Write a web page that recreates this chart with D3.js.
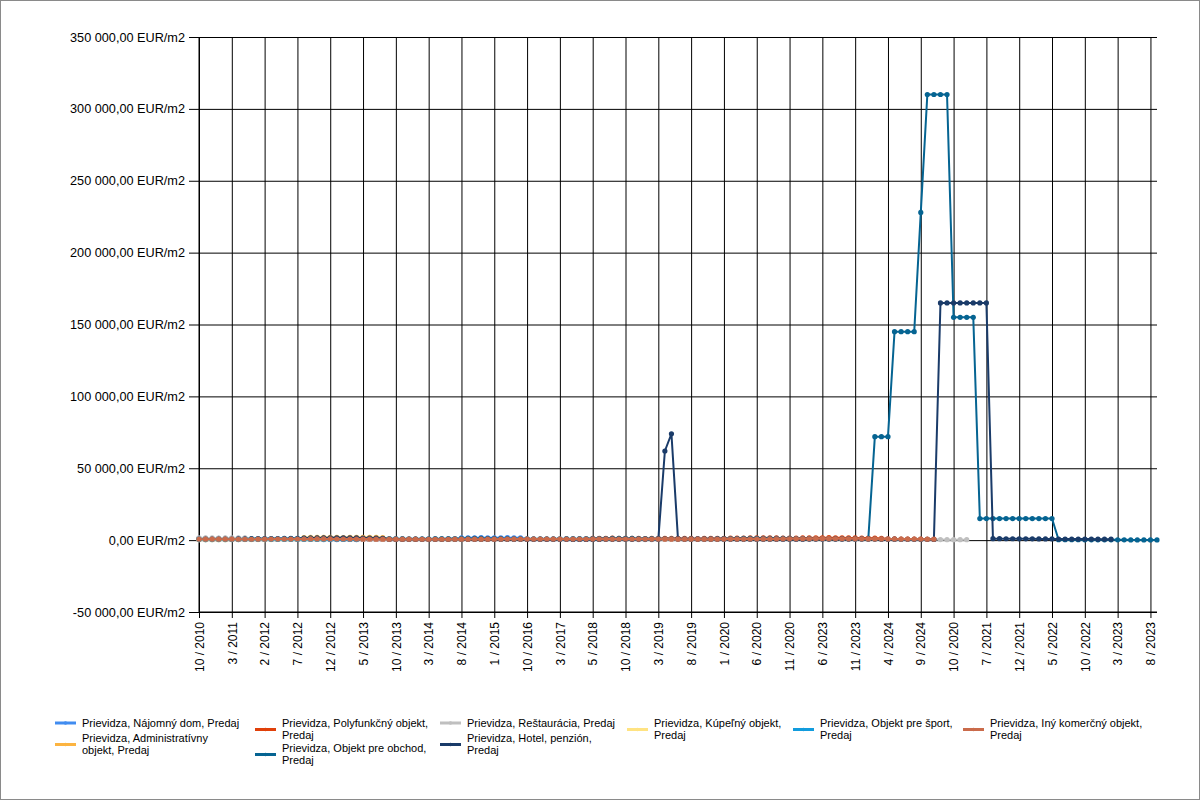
<!DOCTYPE html>
<html>
<head>
<meta charset="utf-8">
<script src="https://cdn.jsdelivr.net/npm/d3@7"></script>
<style>
  body { margin: 0; background: #ffffff; }
  svg { display: block; font-family: "Liberation Sans", Arial, sans-serif; }
</style>
</head>
<body>
<div id="chart"></div>
<script>
// labels shown on the category axis (every 5th point)
const tickLabels = ["10 / 2010", "3 / 2011", "2 / 2012", "7 / 2012", "12 / 2012", "5 / 2013",
  "10 / 2013", "3 / 2014", "8 / 2014", "1 / 2015", "10 / 2016", "3 / 2017", "5 / 2018",
  "10 / 2018", "3 / 2019", "8 / 2019", "1 / 2020", "6 / 2020", "11 / 2020", "6 / 2023",
  "11 / 2023", "4 / 2024", "9 / 2024", "10 / 2020", "7 / 2021", "12 / 2021", "5 / 2022",
  "10 / 2022", "3 / 2023", "8 / 2023"];

const pointCount = 147;

const yTicks = [-50000, 0, 50000, 100000, 150000, 200000, 250000, 300000, 350000];

// series in drawing order
const seriesNames = ["Prievidza, Nájomný dom, Predaj", "Prievidza, Administratívny objekt, Predaj",
  "Prievidza, Polyfunkčný objekt, Predaj", "Prievidza, Objekt pre obchod, Predaj",
  "Prievidza, Reštaurácia, Predaj", "Prievidza, Hotel, penzión, Predaj",
  "Prievidza, Kúpeľný objekt, Predaj", "Prievidza, Objekt pre šport, Predaj",
  "Prievidza, Iný komerčný objekt, Predaj"];

const seriesColors = ["#418CF0", "#FCB441", "#E0400A", "#056492", "#BFBFBF", "#1A3B69", "#FFE382", "#129CDD", "#CA6B4B"];

// EUR/m2 per point
const najomnyDom = [
  400, 410, 420, 430, 440, 450, 460, 470, 480, 490,
  500, 490, 480, 470, 460, 450, 440, 430, 420, 410,
  400, 410, 420, 430, 440, 450, 460, 470, 480, 490,
  500, 510, 520, 530, 540, 550, 560, 570, 580, 590,
  1550, 1600, 1650, 1700, 1650, 1600, 1650, 1700, 1650, 1600,
  600, 590, 580, 570, 560, 550, 540, 530, 520, 510];

const administrativny = [
  480, 490, 500, 510, 520, 530, 540, 550, 560, 570, 580, 590, 600, 610, 620, 630,
  1800, 1850, 1900, 1950, 1900, 1850, 1800, 1850, 1900, 1950, 1900, 1850, 1800,
  600, 590, 580, 570, 560, 550, 540, 530, 520, 510, 500, 490];

const polyfunkcny = [
  450, 460, 470, 480, 490, 500, 510, 520, 530, 540,
  550, 560, 570, 580, 590, 600, 590, 580, 570, 560,
  550, 540, 530, 520, 510, 500, 490, 480, 470, 460,
  450, 460, 470, 480, 490, 500, 510, 520, 530, 540,
  550, 560, 570, 580, 590, 600, 610, 620, 630, 640,
  650, 660, 670, 680, 690, 700, 710, 720, 730, 740,
  1200, 1250, 1300, 1350, 1300, 1250, 1200, 1150, 1100, 1150,
  1200, 1250, 1300, 1250, 1200, 1150, 1100, 1150, 1200, 1250,
  1300, 1350, 1400, 1450, 1500, 1550, 1600, 1550, 1500, 1450,
  1400, 1450, 1500, 1550, 1600, 1650, 1700, 1650, 1600, 1550,
  1500, 1450, 1400, 1350, 1300, 900, 850, 800, 750, 700,
  650, 600, 550];

const objektObchod = [
  1200, 1150, 1100, 1180, 1250, 1300, 1220, 1180, 1100, 1050,
  1000, 1080, 1120, 1150, 1200, 1260, 1300, 1350, 1280, 1200,
  1150, 1100, 1050, 1000, 980, 950, 1000, 1050, 1100, 1080,
  1020, 980, 950, 920, 900, 940, 980, 1000, 1050, 1100,
  1150, 1200, 1180, 1150, 1100, 1050, 1000, 980, 960, 940,
  920, 900, 880, 900, 920, 950, 980, 1000, 1020, 1050,
  1080, 1100, 1120, 1150, 1180, 1200, 1150, 1100, 1050, 1000,
  980, 960, 940, 920, 900, 880, 900, 920, 950, 980,
  1000, 1050, 1100, 1150, 1200, 1250, 1300, 1280, 1250, 1200,
  1150, 1100, 1050, 1000, 950, 900, 880, 860, 850, 840,
  830, 820, 800,
  72000, 72000, 72000,
  145000, 145000, 145000, 145000,
  228000,
  310000, 310000, 310000, 310000,
  155000, 155000, 155000, 155000,
  15000, 15000, 15000, 15000, 15000, 15000, 15000, 15000, 15000, 15000, 15000, 15000,
  300, 280, 260, 250, 240, 230, 220, 210, 200, 190, 180, 170, 160, 150, 140, 130];

const restauracia = [
  1600, 1550, 1500, 1450, 1500, 1550, 1600, 1500,
  520, 510, 500, 490, 480, 470, 460, 470, 480, 490,
  500, 510, 520, 530, 540, 550, 540, 530, 520, 510,
  500, 490, 480, 470, 460, 450, 460, 470, 480, 490,
  500, 510, 520, 530, 540, 550, 560, 570, 580, 590,
  600, 590, 580, 570, 560, 550, 540, 530, 520, 510,
  500, 490, 480, 470, 460, 450, 440, 430, 420, 410,
  400, 410, 420, 430, 440, 450, 460, 470, 480, 490,
  500, 510, 520, 530, 540, 550, 560, 570, 580, 590,
  600, 610, 620, 630, 640, 650, 640, 630, 620, 610,
  600, 590, 580, 570, 560, 550, 540, 530, 520, 510,
  500, 490, 480, 470, 460,
  350, 340, 330, 320, 310];

const hotelPenzion = [
  700, 720, 740, 760, 780, 800, 820, 840, 860, 880, 900, 920, 940, 960, 980, 1000,
  1400, 1450, 1500, 1550, 1600, 1650, 1600, 1550, 1500, 1450, 1400, 1350, 1300,
  600, 590, 580, 570, 560, 550, 560, 570, 580, 590,
  600, 610, 620, 630, 640, 650, 640, 630, 620, 610,
  600, 590, 580, 570, 560, 550, 540, 530, 520, 510,
  500, 510, 520, 530, 540, 550, 560, 570, 580, 590,
  600, 610,
  62000, 74000,
  700, 690, 680, 670, 660, 650, 640, 630, 620, 610,
  600, 610, 620, 630, 640, 650, 660, 670, 680, 690,
  700, 710, 720, 730, 740, 750, 740, 730, 720, 710,
  700, 680, 660, 640, 620, 600, 580, 560, 540, 520,
  165000, 165000, 165000, 165000, 165000, 165000, 165000, 165000,
  1000, 980, 960, 940, 920, 900, 880, 860, 840, 820,
  800, 780, 760, 740, 720, 700, 680, 660, 640];

const kupelny = [300, 310, 320, 330, 340, 350, 360, 370, 380, 390,
  400, 410, 420, 430, 440, 450, 460, 470, 480, 490];

const objektSport = [350, 360, 370, 380, 390, 400, 410, 420, 430, 440,
  450, 460, 470, 480, 490, 500, 490, 480, 470, 460, 450, 440, 430, 420, 410];

const inyKomercny = [
  620, 640, 650, 660, 640, 630, 610, 600, 620, 650,
  680, 700, 720, 740, 760, 780, 800, 820, 840, 830,
  820, 800, 780, 760, 740, 720, 700, 690, 680, 670,
  660, 650, 640, 630, 620, 610, 600, 610, 620, 630,
  640, 650, 660, 670, 680, 690, 700, 710, 720, 730,
  740, 750, 760, 770, 760, 750, 740, 730, 720, 710,
  700, 720, 740, 760, 780, 800, 780, 760, 740, 720,
  700, 690, 680, 670, 660, 650, 660, 670, 680, 690,
  700, 720, 740, 760, 780, 800, 820, 840, 860, 880,
  900, 920, 940, 960, 980, 1000, 980, 960, 940, 920,
  900, 880, 860, 840, 820, 800, 780, 760, 740, 720,
  700, 680, 660];

const seriesValues = [najomnyDom, administrativny, polyfunkcny, objektObchod, restauracia,
  hotelPenzion, kupelny, objektSport, inyKomercny];

// legend text broken into lines like the original
const legendLines = [
  ["Prievidza, Nájomný dom, Predaj"],
  ["Prievidza, Administratívny", "objekt, Predaj"],
  ["Prievidza, Polyfunkčný objekt,", "Predaj"],
  ["Prievidza, Objekt pre obchod,", "Predaj"],
  ["Prievidza, Reštaurácia, Predaj"],
  ["Prievidza, Hotel, penzión,", "Predaj"],
  ["Prievidza, Kúpeľný objekt,", "Predaj"],
  ["Prievidza, Objekt pre šport,", "Predaj"],
  ["Prievidza, Iný komerčný objekt,", "Predaj"]];

var width = 1200, height = 800;
var plot = {left: 199, right: 1157, top: 37, bottom: 612};

var svg = d3.select("#chart")
  .append("svg")
    .attr("width", width)
    .attr("height", height);

svg.append("rect")
  .attr("x", 0.5).attr("y", 0.5)
  .attr("width", width - 1).attr("height", height - 1)
  .attr("fill", "#ffffff")
  .attr("stroke", "#8a8a8a");

var x = d3.scaleLinear()
  .domain([0, pointCount - 1])
  .range([plot.left, plot.right]);

var y = d3.scaleLinear()
  .domain([-50000, 350000])
  .range([plot.bottom, plot.top]);

var skLocale = d3.formatLocale({decimal: ",", thousands: " ", grouping: [3], currency: ["", ""], minus: "-"});
var fmt = skLocale.format(",.2f");

var tickIdx = tickLabels.map((d, i) => i * 5);

// horizontal grid + y axis
var yAxis = svg.append("g")
  .attr("transform", "translate(" + plot.left + ",0)")
  .call(d3.axisLeft(y).tickValues(yTicks).tickSize(10).tickPadding(4)
    .tickFormat(d => fmt(d) + " EUR/m2"));
yAxis.select(".domain").remove();
yAxis.selectAll(".tick line")
  .attr("x1", -10).attr("x2", plot.right - plot.left)
  .attr("stroke", "#000");
yAxis.selectAll("text")
  .attr("font-size", "12.7px")
  .attr("fill", "#000");

// vertical grid + x axis
var xAxis = svg.append("g")
  .attr("transform", "translate(0," + plot.bottom + ")")
  .call(d3.axisBottom(x).tickValues(tickIdx).tickSize(6)
    .tickFormat((d, i) => tickLabels[i]));
xAxis.select(".domain").remove();
xAxis.selectAll(".tick line")
  .attr("y1", plot.top - plot.bottom).attr("y2", 6)
  .attr("stroke", "#000");
xAxis.selectAll("text")
  .attr("font-size", "12px")
  .attr("fill", "#000")
  .attr("transform", "rotate(-90)")
  .attr("text-anchor", "end")
  .attr("x", -10)
  .attr("y", 0)
  .attr("dy", "0.35em");

// axis lines
svg.append("line")
  .attr("x1", plot.left).attr("x2", plot.left)
  .attr("y1", plot.top).attr("y2", plot.bottom)
  .attr("stroke", "#000");
svg.append("line")
  .attr("x1", plot.left).attr("x2", plot.right)
  .attr("y1", plot.bottom).attr("y2", plot.bottom)
  .attr("stroke", "#000");

var line = d3.line()
  .x((d, i) => x(i))
  .y(d => y(d));

// series lines with markers
seriesValues.forEach(function(values, s) {
  var g = svg.append("g");
  g.append("path")
    .datum(values)
    .attr("d", line)
    .attr("fill", "none")
    .attr("stroke", seriesColors[s])
    .attr("stroke-width", 2)
    .attr("stroke-linejoin", "round");
  g.selectAll("circle")
    .data(values)
    .enter()
    .append("circle")
      .attr("cx", (d, i) => x(i))
      .attr("cy", d => y(d))
      .attr("r", 2.6)
      .style("fill", seriesColors[s]);
});

// legend (columns filled top to bottom)
var legendCols = [55, 255, 440, 627, 793, 963];
var legendPos = [[0, 723], [0, 738], [1, 723], [1, 748], [2, 723], [2, 738], [3, 723], [4, 723], [5, 723]];

var legend = svg.append("g").attr("font-size", "11px");
legendLines.forEach(function(lines, s) {
  var lx = legendCols[legendPos[s][0]];
  var ly = legendPos[s][1];
  var mid = ly + (lines.length - 1) * 6.5;
  legend.append("line")
    .attr("x1", lx).attr("x2", lx + 21)
    .attr("y1", mid).attr("y2", mid)
    .attr("stroke", seriesColors[s])
    .attr("stroke-width", 3);
  legend.append("circle")
    .attr("cx", lx + 10.5).attr("cy", mid)
    .attr("r", 1.8)
    .style("fill", seriesColors[s]);
  lines.forEach(function(t, k) {
    legend.append("text")
      .attr("x", lx + 27)
      .attr("y", ly + k * 12.5)
      .attr("dy", "0.35em")
      .attr("fill", "#000")
      .text(t);
  });
});
</script>
</body>
</html>
